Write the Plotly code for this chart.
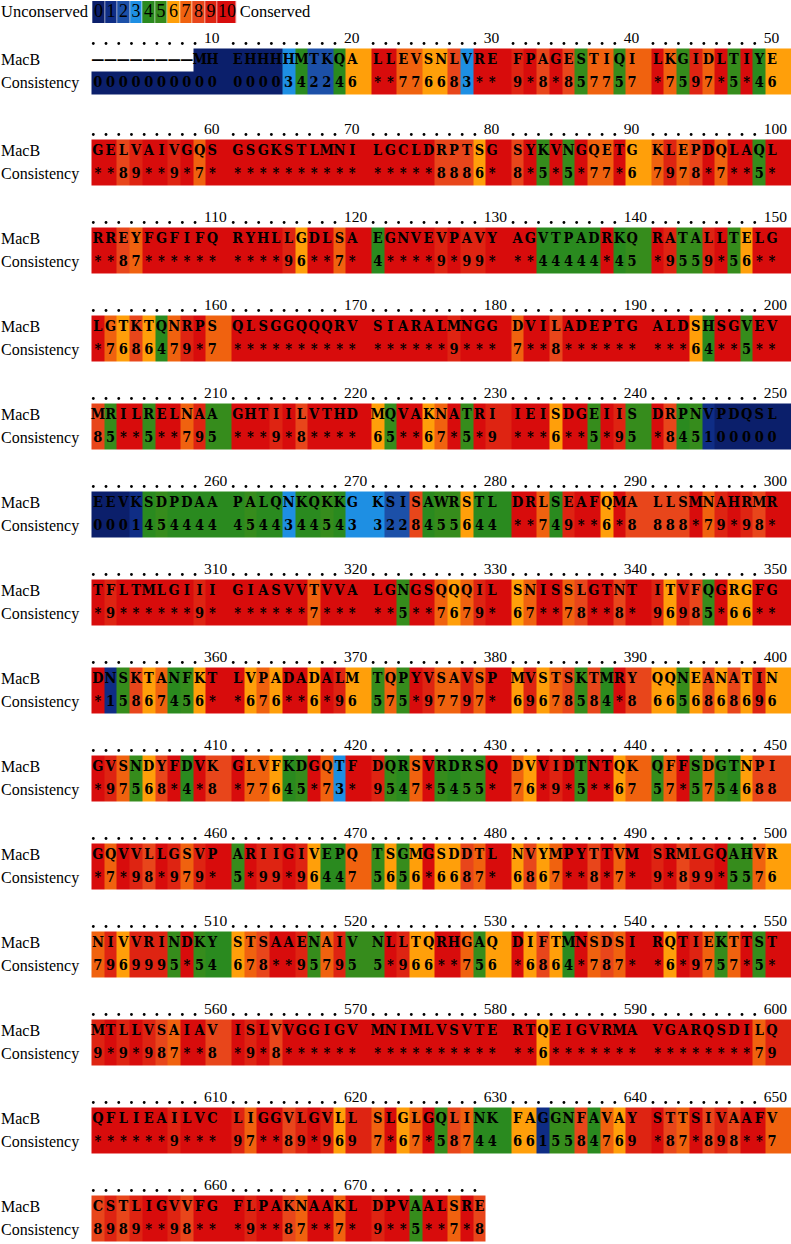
import plotly.graph_objects as go

# ---------------- data ----------------
sequence_blocks = [
    "--------MH EHHHHMTKQA LLEVSNLVRE FPAGESTIQI LKGIDLTIYE",
    "GELVAIVGQS GSGKSTLMNI LGCLDRPTSG SYKVNGQETG KLEPDQLAQL",
    "RREYFGFIFQ RYHLLGDLSA EGNVEVPAVY AGVTPADRKQ RATALLTELG",
    "LGTKTQNRPS QLSGGQQQRV SIARALMNGG DVILADEPTG ALDSHSGVEV",
    "MRILRELNAA GHTIILVTHD MQVAKNATRI IEISDGEIIS DRPNVPDQSL",
    "EEVKSDPDAA PALQNKQKKG KSISAWRSTL DRLSEAFQMA LLSMNAHRMR",
    "TFLTMLGIII GIASVVTVVA LGNGSQQQIL SNISSLGTNT ITVFQGRGFG",
    "DNSKTANFKT LVPADADALM TQPYVSAVSP MVSTSKTMRY QQNEANATIN",
    "GVSNDYFDVK GLVFKDGQTF DQRSVRDRSQ DVVIDTNTQK QFFSDGTNPI",
    "GQVVLLGSVP ARIIGIVEPQ TSGMGSDDTL NVYMPYTTVM SRMLGQAHVR",
    "NIVVRINDKY STSAAENAIV NLLTQRHGAQ DIFTMNSDSI RQTIEKTTST",
    "MTLLVSAIAV ISLVVGGIGV MNIMLVSVTE RTQEIGVRMA VGARQSDILQ",
    "QFLIEAILVC LIGGVLGVLL SLGLGQLINK FAGGNFAVAY STTSIVAAFV",
    "CSTLIGVVFG FLPAKNAAKL DPVAALSRE",
]
consistency_blocks = [
    "0000000000 0000342246 **776683** 9*8*857757 *7597*5*46",
    "**89**9*7* ********** *****8886* 8*5*5*77*6 7978*7**5*",
    "**87****** ****96**7* 4****9*99* **44444*45 *9559*56**",
    "*7686479*7 ********** ******9*** 7**8****** ***64**5**",
    "85**5**795 ***9*8**** 65**67*5*9 ***6**5*95 *845100000",
    "0001454444 4544344543 3228455644 **749**6*8 888*79*98*",
    "*9******9* ******7*** **5**7679* 67**78**8* 96985*66**",
    "*15867456* *676**6*96 575*97797* 69678584*8 6656868696",
    "*97568*4*8 *77645*73* 9547*5455* 76*9*5**67 57*5754688",
    "*7*98*979* 5*99*96447 5656*6687* 6867**8*7* 9*899*5576",
    "7969995*54 678**95795 5*966**756 *6864*787* *6*9757*5*",
    "9*9*987**8 *9*8****** ********** **6******* ********79",
    "******9*** 97**89*969 7*67*58744 6615584769 *87*898**7",
    "8989**98** *9**87**7* 9**5**7*8",
]
row_labels = ["MacB", "Consistency"]
legend_levels = list(range(11))
legend_texts = ["Unconserved", "Conserved"]
level_colors = [
    "#0b1f6b", "#0f2d85", "#1c50a8", "#1e8fe3", "#2a8a1f", "#368c1c",
    "#ff9f0a", "#f0620f", "#e8461b", "#de2412", "#d80c0c",
]

# ---------------- geometry ----------------
W, H = 791, 1244
X0, U = 91.5, 12.72
ROW_H = 23.0
BLOCK_W = 50


def col_left(i):
    return X0 + (i + i // 10) * U


def block_top(k):
    return 48.5 if k == 0 else 139.5 + 88.0 * (k - 1)


def level(ch):
    return 10 if ch == "*" else int(ch)


seqs = [b.replace(" ", "") for b in sequence_blocks]
cons = [b.replace(" ", "") for b in consistency_blocks]
nblocks = len(seqs)

# discrete colorscale
cs = []
for i, c in enumerate(level_colors):
    cs.append([i / 11, c])
    cs.append([(i + 1) / 11, c])

# heatmap grid
x_edges = [col_left(i) for i in range(BLOCK_W)] + [X0 + 55 * U]
y_edges, z = [], []
for k in range(nblocks):
    t = block_top(k)
    y_edges += [t, t + ROW_H]
    row_s = [None] * BLOCK_W
    row_c = [None] * BLOCK_W
    for i, (a, c) in enumerate(zip(seqs[k], cons[k])):
        row_c[i] = level(c)
        row_s[i] = None if a == "-" else level(c)
    z.append(row_s)
    z.append(row_c)
    if k < nblocks - 1:
        y_edges.append(t + 2 * ROW_H)
        z.append([None] * BLOCK_W)
y_edges.append(block_top(nblocks - 1) + 2 * ROW_H)

fig = go.Figure()
fig.add_trace(go.Heatmap(
    x=x_edges, y=y_edges, z=z, colorscale=cs, zmin=-0.5, zmax=10.5,
    showscale=False, hoverinfo="skip", zsmooth=False,
))

# letters and consistency symbols
lx, ly, lt, cx, cy, ct = [], [], [], [], [], []
dx, dy, nx, ny, nt = [], [], [], [], []
labx, laby, labt = [], [], []
for k in range(nblocks):
    t = block_top(k)
    for i, (a, c) in enumerate(zip(seqs[k], cons[k])):
        xc = col_left(i) + U / 2
        lx.append(xc); ly.append(t + 12.3); lt.append("—" if a == "-" else a)
        cx.append(xc); cy.append(t + 34.8); ct.append(c)
        pos = k * BLOCK_W + i + 1
        if pos % 10 == 0:
            nx.append(col_left(i) - 2); ny.append(t - 9.0); nt.append(str(pos))
        else:
            dx.append(col_left(i) + 1.8); dy.append(t - 5.0)
    labx += [1, 1]; laby += [t + 12.4, t + 35.0]; labt += row_labels

mono = dict(family="DejaVu Serif Condensed, DejaVu Serif", size=14.5,
            color="black", weight="bold")
fig.add_trace(go.Scatter(x=lx, y=ly, text=lt, mode="text", textfont=mono,
                         textposition="middle center", hoverinfo="skip",
                         cliponaxis=False))
fig.add_trace(go.Scatter(x=cx, y=cy, text=ct, mode="text", textfont=mono,
                         textposition="middle center", hoverinfo="skip",
                         cliponaxis=False))
fig.add_trace(go.Scatter(x=dx, y=dy, mode="markers", hoverinfo="skip",
                         marker=dict(size=2.8, color="black", symbol="circle")))
serif = dict(family="Liberation Serif", size=15.5, color="black")
fig.add_trace(go.Scatter(x=nx, y=ny, text=nt, mode="text", textfont=serif,
                         textposition="middle right", hoverinfo="skip",
                         cliponaxis=False))
fig.add_trace(go.Scatter(x=labx, y=laby, text=labt, mode="text",
                         textfont=dict(family="Liberation Serif", size=16, color="black"),
                         textposition="middle right", hoverinfo="skip",
                         cliponaxis=False))

# legend bar
LX0, LU = 92.3, 12.5
leg_edges = [LX0 + LU * i for i in range(11)] + [LX0 + LU * 10 + 19.4]
fig.add_trace(go.Heatmap(
    x=leg_edges, y=[1, 22.7], z=[legend_levels], colorscale=cs, zmin=-0.5,
    zmax=10.5, showscale=False, hoverinfo="skip", xgap=0.6,
))
legx = [(leg_edges[i] + leg_edges[i + 1]) / 2 for i in range(11)]
fig.add_trace(go.Scatter(x=legx, y=[12.5] * 11, text=[str(v) for v in legend_levels],
                         mode="text", hoverinfo="skip", cliponaxis=False,
                         textfont=dict(family="Liberation Serif", size=18, color="black")))
fig.add_trace(go.Scatter(x=[1, leg_edges[-1] + 3], y=[12.5, 12.5], text=legend_texts,
                         mode="text", textposition="middle right", hoverinfo="skip",
                         cliponaxis=False,
                         textfont=dict(family="Liberation Serif", size=16.5, color="black")))

fig.update_layout(
    width=W, height=H,
    margin=dict(l=0, r=0, t=0, b=0),
    paper_bgcolor="white", plot_bgcolor="white", showlegend=False,
    xaxis=dict(range=[0, W], visible=False, fixedrange=True),
    yaxis=dict(range=[H, 0], visible=False, fixedrange=True),
)
fig.write_html("out.html", config={"displayModeBar": False},
               post_script="document.body.style.margin='0px';")
